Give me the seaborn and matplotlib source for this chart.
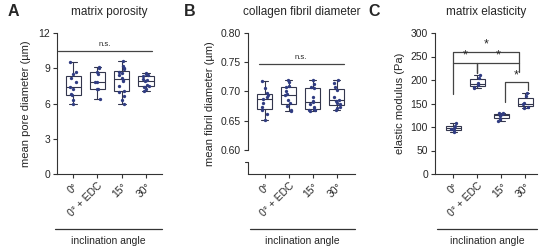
import matplotlib
matplotlib.use("Agg")
import matplotlib.pyplot as plt
import numpy as np
import pandas as pd
import seaborn as sns

GROUPS = ["0°", "0° + EDC", "15°", "30°"]

# matrix porosity: mean pore diameter (um)
pore_0 = [6.0, 6.3, 6.7, 6.8, 7.2, 7.4, 7.8, 8.2, 8.5, 8.7, 9.5]
pore_edc = [6.4, 7.2, 7.25, 7.8, 7.85, 8.5, 8.65, 9.0, 9.1]
pore_15 = [6.0, 6.3, 6.6, 7.0, 7.1, 7.5, 7.9, 8.0, 8.2, 8.4, 8.6, 8.7, 8.9, 9.0, 9.2, 9.6]
pore_30 = [7.1, 7.2, 7.4, 7.5, 7.6, 7.9, 8.0, 8.1, 8.3, 8.4, 8.5, 8.6]

# collagen fibril diameter (um)
fib_0 = [0.651, 0.662, 0.668, 0.673, 0.680, 0.687, 0.690, 0.694, 0.697, 0.705, 0.718]
fib_edc = [0.667, 0.669, 0.675, 0.680, 0.686, 0.693, 0.696, 0.701, 0.707, 0.710, 0.716, 0.719]
fib_15 = [0.667, 0.668, 0.669, 0.670, 0.673, 0.678, 0.682, 0.684, 0.690, 0.705, 0.708, 0.712, 0.719]
fib_30 = [0.669, 0.671, 0.674, 0.678, 0.680, 0.684, 0.686, 0.690, 0.703, 0.708, 0.714, 0.719]

# matrix elasticity: elastic modulus (Pa)
mod_0 = [90, 93, 96, 98, 103, 108]
mod_edc = [182, 186, 190, 194, 204, 210]
mod_15 = [112, 118, 124, 127, 129, 130]
mod_30 = [140, 143, 148, 152, 166, 173]

# significance brackets in C: (x_left, x_right, height, left leg end, right leg end)
brackets = [
    (0, 2.75, 260, 237, 237),
    (0, 1, 237, 171, 214),
    (1, 2.75, 237, 214, 217),
    (2.15, 3.1, 196, 153, 178),
]

POINT = "#303c82"
EDGE = "#33364d"


def to_long(series):
    rows = []
    for g, vals in zip(GROUPS, series):
        rows += [{"group": g, "value": v} for v in vals]
    return pd.DataFrame(rows)


def draw_panel(ax, df, xlim):
    sns.boxplot(data=df, x="group", y="value", order=GROUPS, whis=(0, 100),
                width=0.62, color="white", linecolor=EDGE, linewidth=0.8,
                fliersize=0, ax=ax)
    sns.stripplot(data=df, x="group", y="value", order=GROUPS, color=POINT,
                  size=2.4, jitter=0.14, ax=ax, zorder=3)
    ax.set_xlim(*xlim)
    ax.set_xlabel("")
    sns.despine(ax=ax)
    ax.tick_params(axis="both", direction="out", length=3, width=0.8,
                   labelsize=7.5, color="#333333", pad=2)
    ax.set_xticks(range(4))
    ax.set_xticklabels(GROUPS, rotation=45, ha="right", rotation_mode="anchor")
    for s in ("left", "bottom"):
        ax.spines[s].set_linewidth(0.8)
        ax.spines[s].set_color("#333333")


sns.set_theme(style="ticks")
plt.rcParams["font.family"] = ["Liberation Sans", "DejaVu Sans"]

fig = plt.figure(figsize=(5.46, 2.5), dpi=100)
W, H = 546, 250


def add_ax(left, right, top=33, bottom=174):
    return fig.add_axes([left / W, (H - bottom) / H, (right - left) / W, (bottom - top) / H])


axA = add_ax(57, 162)
axB = add_ax(248, 355)
axC = add_ax(435, 537)

# A
draw_panel(axA, to_long([pore_0, pore_edc, pore_15, pore_30]), (-0.67, 3.66))
axA.set_ylim(0, 12)
axA.set_yticks([0, 3, 6, 9, 12])
axA.set_ylabel("mean pore diameter (µm)", fontsize=8, labelpad=5)
axA.plot([-0.63, 3.25], [10.45, 10.45], color="#444444", lw=0.9)
axA.text(1.3, 10.75, "n.s.", ha="center", va="bottom", fontsize=5.5)

# B (broken y axis)
draw_panel(axB, to_long([fib_0, fib_edc, fib_15, fib_30]), (-0.70, 3.77))
axB.set_ylim(0.5586, 0.80)
axB.set_yticks([0.60, 0.65, 0.70, 0.75, 0.80])
axB.set_yticklabels(["0.60", "0.65", "0.70", "0.75", "0.80"])
axB.spines["left"].set_bounds(0.60, 0.80)
trans = axB.get_yaxis_transform()
axB.plot([0, 0], [0.5586, 0.580], transform=trans, color="#333333", lw=0.8, clip_on=False)
axB.plot([-0.025, 0], [0.580, 0.580], transform=trans, color="#333333", lw=0.8, clip_on=False)
axB.set_ylabel("mean fibril diameter (µm)", fontsize=8, labelpad=4)
axB.plot([-0.26, 3.29], [0.7466, 0.7466], color="#444444", lw=0.9)
axB.text(1.5, 0.752, "n.s.", ha="center", va="bottom", fontsize=5.5)

# C
draw_panel(axC, to_long([mod_0, mod_edc, mod_15, mod_30]), (-0.77, 3.49))
axC.set_ylim(0, 300)
axC.set_yticks(range(0, 301, 50))
axC.set_ylabel("elastic modulus (Pa)", fontsize=8, labelpad=4)
for x0, x1, h, l0, l1 in brackets:
    axC.plot([x0, x0, x1, x1], [l0, h, h, l1], color="#444444", lw=0.9)
    axC.text((x0 + x1) / 2, h + 2, "*", ha="center", va="bottom", fontsize=9)

# titles and panel letters
for ax, title, lx in [(axA, "matrix porosity", 8), (axB, "collagen fibril diameter", 184),
                      (axC, "matrix elasticity", 368)]:
    bb = ax.get_position()
    fig.text((bb.x0 + bb.x1) / 2, 1 - 12 / H, title, ha="center", va="center", fontsize=8.5)
    fig.text(lx / W, 1 - 12 / H, "ABC"[[axA, axB, axC].index(ax)], ha="left",
             va="center", fontsize=11.5, fontweight="bold")

# "inclination angle" rulers under each panel
for x0, x1 in [(55, 162), (250, 355), (437, 537)]:
    fig.add_artist(plt.Line2D([x0 / W, x1 / W], [1 - 229 / H] * 2, color="#333333", lw=0.9))
    fig.text((x0 + x1) / 2 / W, 1 - 241 / H, "inclination angle", ha="center",
             va="center", fontsize=7.5)

fig.savefig("out.png", dpi=100)
